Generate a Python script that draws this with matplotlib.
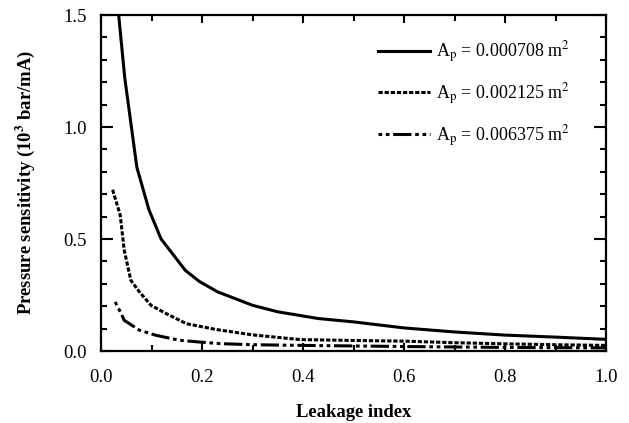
import matplotlib
matplotlib.use("Agg")
import matplotlib.pyplot as plt
from matplotlib.ticker import MultipleLocator

plt.rcParams["font.family"] = ["Liberation Serif", "DejaVu Serif"]
plt.rcParams["mathtext.fontset"] = "stix"

# data
x_small = [0.035, 0.047, 0.071, 0.095, 0.119, 0.143, 0.167, 0.195, 0.231, 0.3,
           0.35, 0.43, 0.5, 0.6, 0.7, 0.8, 0.9, 1.0]
y_small = [1.5, 1.22, 0.82, 0.63, 0.50, 0.43, 0.36, 0.31, 0.264, 0.204,
           0.175, 0.145, 0.13, 0.103, 0.085, 0.071, 0.062, 0.052]

x_mid = [0.023, 0.038, 0.046, 0.059, 0.076, 0.099, 0.129, 0.169, 0.228, 0.3,
         0.394, 0.5, 0.6, 0.7, 0.8, 0.9, 1.0]
y_mid = [0.72, 0.607, 0.45, 0.316, 0.264, 0.204, 0.167, 0.122, 0.096, 0.072,
         0.051, 0.047, 0.044, 0.037, 0.032, 0.028, 0.025]

x_large = [0.028, 0.04, 0.046, 0.076, 0.109, 0.155, 0.195, 0.235, 0.3, 0.4,
           0.6, 0.8, 1.0]
y_large = [0.219, 0.167, 0.137, 0.093, 0.07, 0.048, 0.04, 0.033, 0.028, 0.025,
           0.02, 0.016, 0.014]

labels = [r"A$_\mathrm{p}$ = 0.000708 m$^2$",
          r"A$_\mathrm{p}$ = 0.002125 m$^2$",
          r"A$_\mathrm{p}$ = 0.006375 m$^2$"]

fig = plt.figure(figsize=(6.29, 4.23), dpi=100)
ax = fig.add_axes([101 / 629, 1 - 351 / 423, 505 / 629, 336 / 423])

ax.plot(x_small, y_small, color="black", lw=2.2, label=labels[0])
ax.plot(x_mid, y_mid, color="black", lw=2.2, linestyle=(0, (1.4, 0.6)),
        label=labels[1])
ax.plot(x_large, y_large, color="black", lw=2.2,
        linestyle=(0, (1.2, 1.2, 1.2, 1.2, 6, 1.2)), label=labels[2])

ax.set_xlim(0, 1.0)
ax.set_ylim(0, 1.5)
ax.xaxis.set_major_locator(MultipleLocator(0.2))
ax.xaxis.set_minor_locator(MultipleLocator(0.1))
ax.yaxis.set_major_locator(MultipleLocator(0.5))
ax.yaxis.set_minor_locator(MultipleLocator(0.1))
ax.xaxis.set_major_formatter(lambda v, p: f"{v:.1f}")
ax.yaxis.set_major_formatter(lambda v, p: f"{v:.1f}")

ax.tick_params(which="both", direction="in", top=True, right=True,
               width=1.5, labelsize=13.5)
ax.tick_params(axis="x", which="major", length=6, pad=13)
ax.tick_params(axis="y", which="major", length=8.5, pad=10)
ax.tick_params(which="minor", length=4.5)
for s in ax.spines.values():
    s.set_linewidth(1.6)

ax.set_xlabel("Leakage index", fontsize=13.4, fontweight="bold", labelpad=12)
ax.set_ylabel(r"Pressure sensitivity (10$^\mathbf{3}$ bar/mA)", fontsize=13.4,
              fontweight="bold", labelpad=14)
ax.xaxis.set_label_coords(0.5, -(412 - 351) / 336, transform=ax.transAxes)
ax.xaxis.label.set_va("center")
ax.yaxis.set_label_coords(-(101 - 25) / 505, 0.5, transform=ax.transAxes)
ax.yaxis.label.set_va("center")

ax.legend(loc="upper right", frameon=False, fontsize=13, handlelength=2.9,
          handletextpad=0.3, labelspacing=0.9, borderaxespad=1.0,
          bbox_to_anchor=(1 - 11 / 505, 1 + 1 / 336))

fig.savefig("out.png", dpi=100)
